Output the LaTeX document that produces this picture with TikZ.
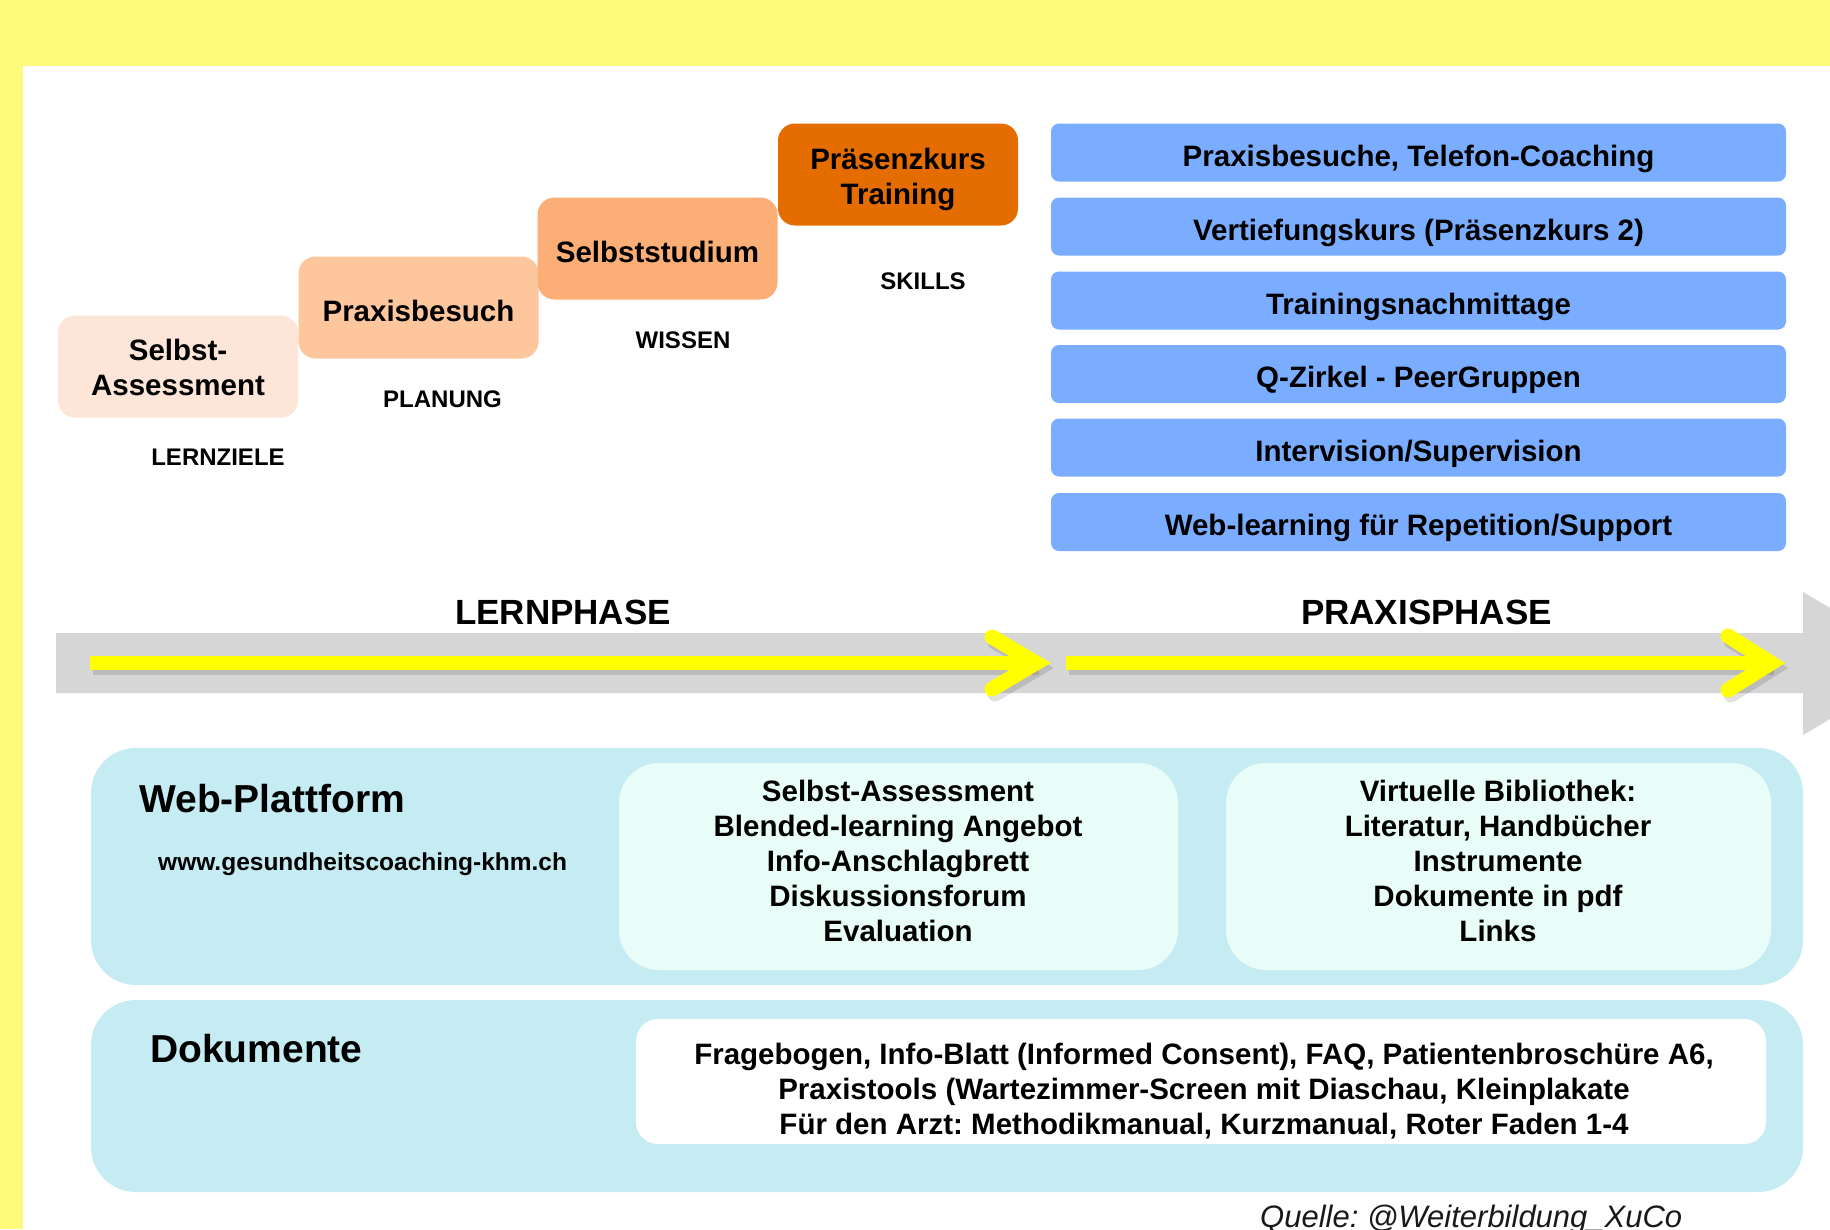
\documentclass[tikz,border=0pt]{standalone}
\usepackage{fontspec}
\setmainfont{Liberation Sans}
\frenchspacing
\newcommand{\fsz}[1]{\fontsize{#1}{35}\selectfont}
\definecolor{bgyel}{HTML}{FFFB7A}
\definecolor{cA}{HTML}{FDE6D8}
\definecolor{cB}{HTML}{FDC69C}
\definecolor{cC}{HTML}{FBAE76}
\definecolor{cD}{HTML}{E56D00}
\definecolor{blueb}{HTML}{7AADFF}
\definecolor{grayb}{HTML}{D6D6D6}
\definecolor{arrowy}{HTML}{FFFF00}
\definecolor{cyanp}{HTML}{C4ECF2}
\definecolor{mint}{HTML}{E9FDF8}
\begin{document}
\begin{tikzpicture}[x=1pt,y=-1pt,
  box/.style={inner sep=0pt, align=center, font=\fsz{29.5}\bfseries},
  stepbox/.style={box, rounded corners=17pt, minimum width=240pt, minimum height=102pt},
  oneline/.style={text height=27pt, text depth=0pt},
  bluebox/.style={box, oneline, fill=blueb, rounded corners=8pt, minimum width=735pt, minimum height=58pt},
  lbl/.style={inner sep=0pt, font=\fsz{24}\bfseries},
  phase/.style={inner sep=0pt, font=\fsz{35}\bfseries},
  title/.style={inner sep=0pt, anchor=base west, font=\fsz{39}\bfseries},
  panel/.style={fill=cyanp, rounded corners=45pt, inner sep=0pt},
  innerbox/.style={fill=mint, rounded corners=40pt, inner sep=0pt},
  shaft/.style={draw=arrowy, line width=14pt},
  chev/.style={draw=arrowy, line width=15pt, line cap=round, line join=miter},
  shadow/.style={draw=black, opacity=0.12, transform canvas={xshift=3pt,yshift=-5pt}},
]
\useasboundingbox (0,0) rectangle (1830,1229);
\clip (0,0) rectangle (1830,1229);
% background
\fill[bgyel] (0,0) rectangle (1830,1229);
\fill[white] (23,66) rectangle (1830,1229);

% step boxes
\node[stepbox, fill=cA] (s1) at (178,366.5) {};
\node[box] (s1t) at ([yshift=-1pt]s1.center) {Selbst-\\Assessment};
\node[stepbox, oneline, fill=cB] (s2) at (418.5,307.5) {Praxisbesuch};
\node[stepbox, oneline, fill=cC] (s3) at (657.5,248.5) {Selbststudium};
\node[stepbox, fill=cD] (s4) at (898,174.5) {};
\node[box] (s4t) at ([yshift=-4.5pt]s4.center) {Präsenzkurs\\Training};

\node[lbl] (l1) at (218,457.5) {LERNZIELE};
\node[lbl] (l2) at (442.5,399) {PLANUNG};
\node[lbl] (l3) at (683,340) {WISSEN};
\node[lbl] (l4) at (923,281) {SKILLS};

% blue boxes
\node[bluebox] (b1) at (1418.5,152.5) {Praxisbesuche, Telefon-Coaching};
\node[bluebox] (b2) at (1418.5,226.5) {Vertiefungskurs (Präsenzkurs 2)};
\node[bluebox] (b3) at (1418.5,300.5) {Trainingsnachmittage};
\node[bluebox] (b4) at (1418.5,374) {Q-Zirkel - PeerGruppen};
\node[bluebox] (b5) at (1418.5,447.5) {Intervision/Supervision};
\node[bluebox] (b6) at (1418.5,522) {Web-learning für Repetition/Support};

% phases
\node[phase] (p1) at (563,612.5) {LERNPHASE};
\node[phase] (p2) at (1426.5,612.5) {PRAXISPHASE};

% gray band
\fill[grayb] (56,633) -- (1803,633) -- (1803,592) -- (1924,663.5) -- (1803,735) -- (1803,693) -- (56,693) -- cycle;

% yellow arrows
\coordinate (a1s) at (90,663);
\coordinate (a1t) at (1036,663);
\coordinate (a1u) at (992,637);
\coordinate (a1d) at (992,689);
\coordinate (a2s) at (1066,663);
\coordinate (a2t) at (1771,663);
\coordinate (a2u) at (1728,636);
\coordinate (a2d) at (1728,690);
\draw[shadow, line width=14pt] (a1s) -- (a1t);
\draw[shadow, line width=15pt, line cap=round] (a1u) -- (a1t) -- (a1d);
\draw[shadow, line width=14pt] (a2s) -- (a2t);
\draw[shadow, line width=15pt, line cap=round] (a2u) -- (a2t) -- (a2d);
\draw[shaft] (a1s) -- (a1t);
\draw[chev] (a1u) -- (a1t) -- (a1d);
\draw[shaft] (a2s) -- (a2t);
\draw[chev] (a2u) -- (a2t) -- (a2d);

% web platform panel
\node[panel, minimum width=1712pt, minimum height=237pt] (web) at (947,866.5) {};
\node[innerbox, minimum width=559pt, minimum height=207pt] (w1) at (898.5,866.5) {};
\node[innerbox, minimum width=545pt, minimum height=207pt] (w2) at (1498.5,866.5) {};
\node[title] (wt) at (139,812) {Web-Plattform};
\node[inner sep=0pt, anchor=base west, font=\fsz{24.5}\bfseries] (url) at (158,870) {www.gesundheitscoaching-khm.ch};
\node[box] (w1t) at (898,861) {Selbst-Assessment\\Blended-learning Angebot\\Info-Anschlagbrett\\Diskussionsforum\\Evaluation};
\node[box] (w2t) at (1498,861) {Virtuelle Bibliothek:\\Literatur, Handbücher\\Instrumente\\Dokumente in pdf\\Links};

% documents panel
\node[panel, minimum width=1712pt, minimum height=192pt] (doc) at (947,1096) {};
\node[fill=white, rounded corners=22pt, inner sep=0pt, minimum width=1130pt, minimum height=125pt] (dw) at (1201,1081.5) {};
\node[title] (dtt) at (150,1062) {Dokumente};
\node[box] (dt) at (1204,1091.5) {Fragebogen, Info-Blatt (Informed Consent), FAQ, Patientenbroschüre A6,\\Praxistools (Wartezimmer-Screen mit Diaschau, Kleinplakate\\Für den Arzt: Methodikmanual, Kurzmanual, Roter Faden 1-4};

% source
\node[inner sep=0pt, anchor=base west, font=\fsz{31}\itshape, text=black!90] (q) at (1260,1227) {Quelle: @Weiterbildung\_XuCo};
\end{tikzpicture}
\end{document}
